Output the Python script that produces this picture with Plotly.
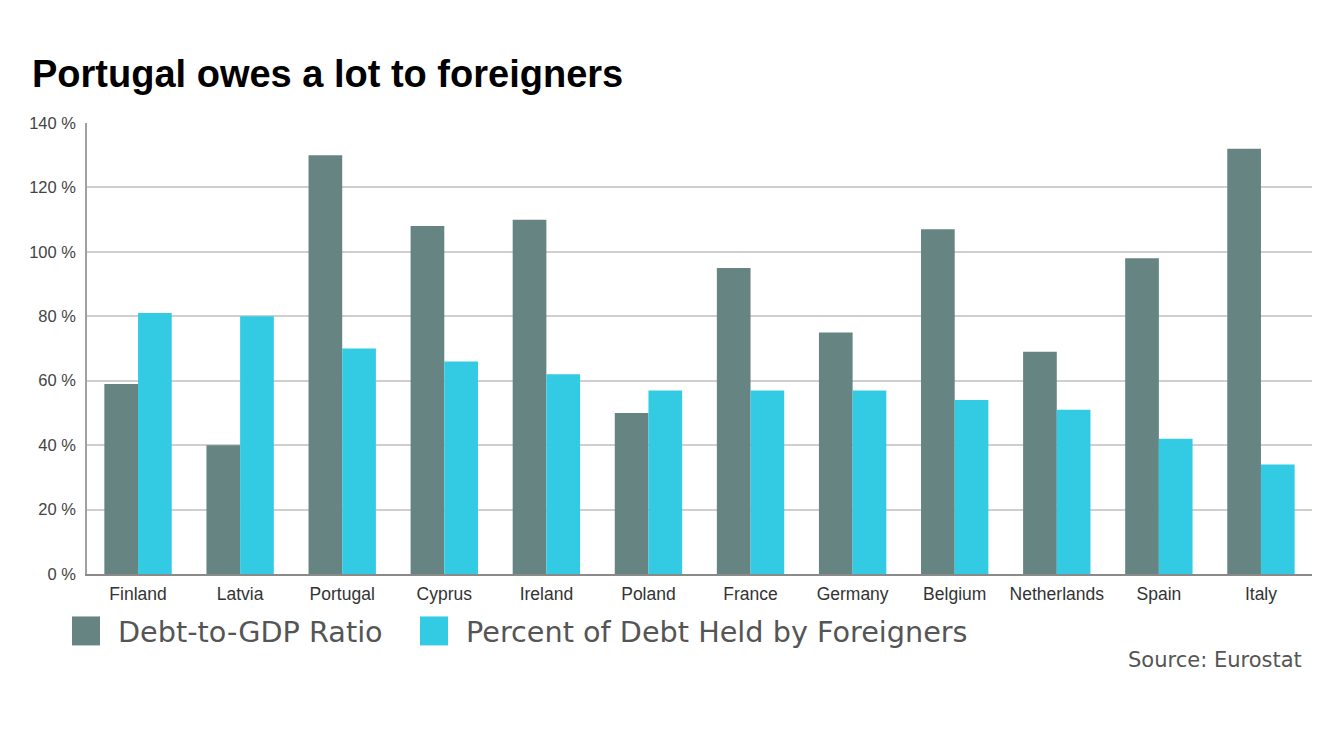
import plotly.graph_objects as go

countries = ["Finland", "Latvia", "Portugal", "Cyprus", "Ireland", "Poland",
             "France", "Germany", "Belgium", "Netherlands", "Spain", "Italy"]
debt_to_gdp = [59, 40, 130, 108, 110, 50, 95, 75, 107, 69, 98, 132]
foreign_held = [81, 80, 70, 66, 62, 57, 57, 57, 54, 51, 42, 34]
y_ticks = [0, 20, 40, 60, 80, 100, 120, 140]
series_names = ["Debt-to-GDP Ratio", "Percent of Debt Held by Foreigners"]

DARK = "#668482"
CYAN = "#33CBE3"

# page body has an 8px margin; work in page pixels and convert
OFF = 8
W, H = 1320 - 2 * OFF, 742 - 2 * OFF
L, R, T, B = 87 - OFF, 1312 - OFF, 123 - OFF, 574.5 - OFF

fig = go.Figure()
fig.add_trace(go.Bar(x=countries, y=debt_to_gdp, name=series_names[0],
                     marker=dict(color=DARK, line=dict(width=0))))
fig.add_trace(go.Bar(x=countries, y=foreign_held, name=series_names[1],
                     marker=dict(color=CYAN, line=dict(width=0))))

def px_x(p):
    return (p - OFF - L) / (R - L)

def px_y(p):
    return (B - (p - OFF)) / (B - T)

shapes = []
annotations = []
legend_items = [(72, 116, DARK, series_names[0]), (420, 464, CYAN, series_names[1])]
for sx, tx, col, name in legend_items:
    shapes.append(dict(type="rect", xref="paper", yref="paper",
                       x0=px_x(sx), x1=px_x(sx + 28), y0=px_y(646), y1=px_y(617),
                       fillcolor=col, line=dict(width=0)))
    annotations.append(dict(xref="paper", yref="paper", x=px_x(tx), y=px_y(633),
                            xanchor="left", yanchor="middle", showarrow=False,
                            text=name, font=dict(family="DejaVu Sans", size=28.7, color="#555555")))

annotations.append(dict(xref="paper", yref="paper", x=px_x(1304), y=px_y(661),
                        xanchor="right", yanchor="middle", showarrow=False,
                        text="Source: Eurostat",
                        font=dict(family="DejaVu Sans", size=21, color="#555555")))

fig.update_layout(
    width=W, height=H,
    margin=dict(l=L, r=W - R, t=T, b=H - B, pad=0),
    paper_bgcolor="white", plot_bgcolor="white",
    barmode="group", bargap=0.34, bargroupgap=0,
    showlegend=False,
    title=dict(text="<b>Portugal owes a lot to foreigners</b>",
               xref="container", yref="container",
               x=(32 - OFF) / W, xanchor="left", y=1 - (74 - OFF) / H, yanchor="middle",
               font=dict(family="Liberation Sans", size=38, color="#000000")),
    xaxis=dict(showgrid=False, showline=True, linecolor="#8a8a8a", linewidth=2,
               ticks="", tickfont=dict(family="Liberation Sans", size=17.5, color="#333333"),
               ticklabelstandoff=3),
    yaxis=dict(range=[0, 140], tickvals=y_ticks, ticktext=[f"{v} %" for v in y_ticks],
               showgrid=True, gridcolor="#cfcfcf", gridwidth=1.5,
               showline=True, linecolor="#a0a0a0", linewidth=1.5,
               zeroline=False, ticks="",
               tickfont=dict(family="Liberation Sans", size=16.5, color="#444444"),
               ticklabelstandoff=6),
    shapes=shapes, annotations=annotations,
)

fig.write_html("out.html")
